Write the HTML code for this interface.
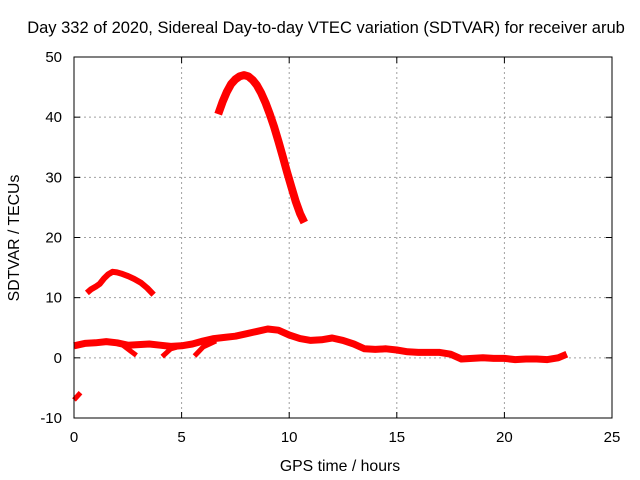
<!DOCTYPE html>
<html><head><meta charset="utf-8"><style>
body{margin:0;background:#fff;}
svg{display:block;font-family:"Liberation Sans",sans-serif;}
</style></head><body>
<svg id="chart" width="640" height="480">
<rect width="640" height="480" fill="#fff"/>
<text x="326" y="33" font-size="16.5" text-anchor="middle">Day 332 of 2020, Sidereal Day-to-day VTEC variation (SDTVAR) for receiver arub</text>
<g id="grid"></g>
<g id="ticks"></g>
<g id="series"></g>
<rect x="74" y="57" width="538" height="361" fill="none" stroke="#000" stroke-width="1"/>
<text x="340" y="471" font-size="15.8" text-anchor="middle">GPS time / hours</text>
<text transform="translate(19,238) rotate(-90)" font-size="15.8" text-anchor="middle">SDTVAR / TECUs</text>
</svg>
<script>
const xTicks=[0,5,10,15,20,25];
const yTicks=[-10,0,10,20,30,40,50];
const mainHours=[0,0.5,1,1.5,2,2.5,3,3.5,4,4.5,5,5.5,6,6.5,7,7.5,8,8.5,9,9.5,10,10.5,11,11.5,12,12.5,13,13.5,14,14.5,15,15.5,16,16.5,17,17.5,18,18.5,19,19.5,20,20.5,21,21.5,22,22.5,22.9];
const mainValues=[2.0,2.4,2.5,2.7,2.5,2.1,2.2,2.3,2.1,1.9,2.0,2.3,2.8,3.2,3.4,3.6,4.0,4.4,4.8,4.6,3.8,3.2,2.9,3.0,3.3,2.9,2.3,1.5,1.4,1.5,1.3,1.0,0.9,0.9,0.9,0.6,-0.2,-0.1,0,-0.1,-0.1,-0.3,-0.2,-0.2,-0.3,0,0.6];
const spur1Hours=[2.2,2.6,2.9];
const spur1Values=[2.3,1.2,0.4];
const spur2Hours=[4.1,4.5,5.0];
const spur2Values=[0.2,1.5,2.0];
const spur3Hours=[5.6,6.0,6.6];
const spur3Values=[0.3,1.8,2.8];
const humpHours=[0.6,0.8,1.0,1.2,1.4,1.6,1.8,2.0,2.2,2.5,2.8,3.1,3.4,3.7];
const humpValues=[10.8,11.4,11.8,12.3,13.2,13.9,14.3,14.2,14.0,13.6,13.1,12.5,11.6,10.5];
const arcHours=[6.7,6.9,7.1,7.3,7.5,7.7,7.9,8.1,8.3,8.5,8.7,8.9,9.1,9.3,9.5,9.7,9.9,10.1,10.3,10.5,10.7];
const arcValues=[40.5,42.5,44.2,45.5,46.3,46.8,47,46.8,46.2,45.3,44.0,42.4,40.5,38.4,36.0,33.5,30.9,28.4,26.0,24.0,22.5];
const tailHours=[0,0.3];
const tailValues=[-7,-5.8];

const NS='http://www.w3.org/2000/svg';
const X0=74,X1=612,Y0=418,Y1=57;
const sx=h=>X0+(h-0)/(25-0)*(X1-X0);
const sy=v=>Y0-(v+10)/(60)*(Y0-Y1);
const grid=document.getElementById('grid'),ticks=document.getElementById('ticks'),ser=document.getElementById('series');
function mk(t,a,p){const e=document.createElementNS(NS,t);for(const k in a)e.setAttribute(k,a[k]);p.appendChild(e);return e;}
xTicks.forEach(t=>{
  const x=sx(t);
  if(t>0&&t<25){const g=mk('line',{x1:x,x2:x,y1:Y1,y2:Y0,stroke:'#a0a0a0','stroke-dasharray':'2,3'},grid);
  
  }
  mk('line',{x1:x,x2:x,y1:Y0,y2:Y0-6,stroke:'#000'},ticks);
  mk('line',{x1:x,x2:x,y1:Y1,y2:Y1+6,stroke:'#000'},ticks);
  const l=mk('text',{x:x,y:Y0+24,'font-size':15,'text-anchor':'middle'},ticks);l.textContent=t;
  
  
});
yTicks.forEach(t=>{
  const y=sy(t);
  if(t>-10&&t<50){const g=mk('line',{x1:X0,x2:X1,y1:y,y2:y,stroke:'#a0a0a0','stroke-dasharray':'2,3'},grid);
  
  }
  mk('line',{x1:X0,x2:X0+6,y1:y,y2:y,stroke:'#000'},ticks);
  mk('line',{x1:X1,x2:X1-6,y1:y,y2:y,stroke:'#000'},ticks);
  const l=mk('text',{x:X0-12,y:y+5,'font-size':15,'text-anchor':'end'},ticks);l.textContent=t;
  
  
});
function seg(hs,vs,name,w){
  const pts=hs.map((h,i)=>sx(h).toFixed(1)+','+sy(vs[i]).toFixed(1)).join(' ');
  const p=mk('polyline',{points:pts,fill:'none',stroke:'#f00','stroke-width':w,'stroke-linejoin':'round','stroke-linecap':'butt'},ser);
  
  
}
seg(mainHours,mainValues,'main-band',7);
seg(spur1Hours,spur1Values,'spur-segment-1',5);
seg(spur2Hours,spur2Values,'spur-segment-2',5);
seg(spur3Hours,spur3Values,'spur-segment-3',5);
seg(humpHours,humpValues,'hump-segment',6);
seg(arcHours,arcValues,'arc-segment',8);
seg(tailHours,tailValues,'negative-segment',5);
</script>
</body></html>
